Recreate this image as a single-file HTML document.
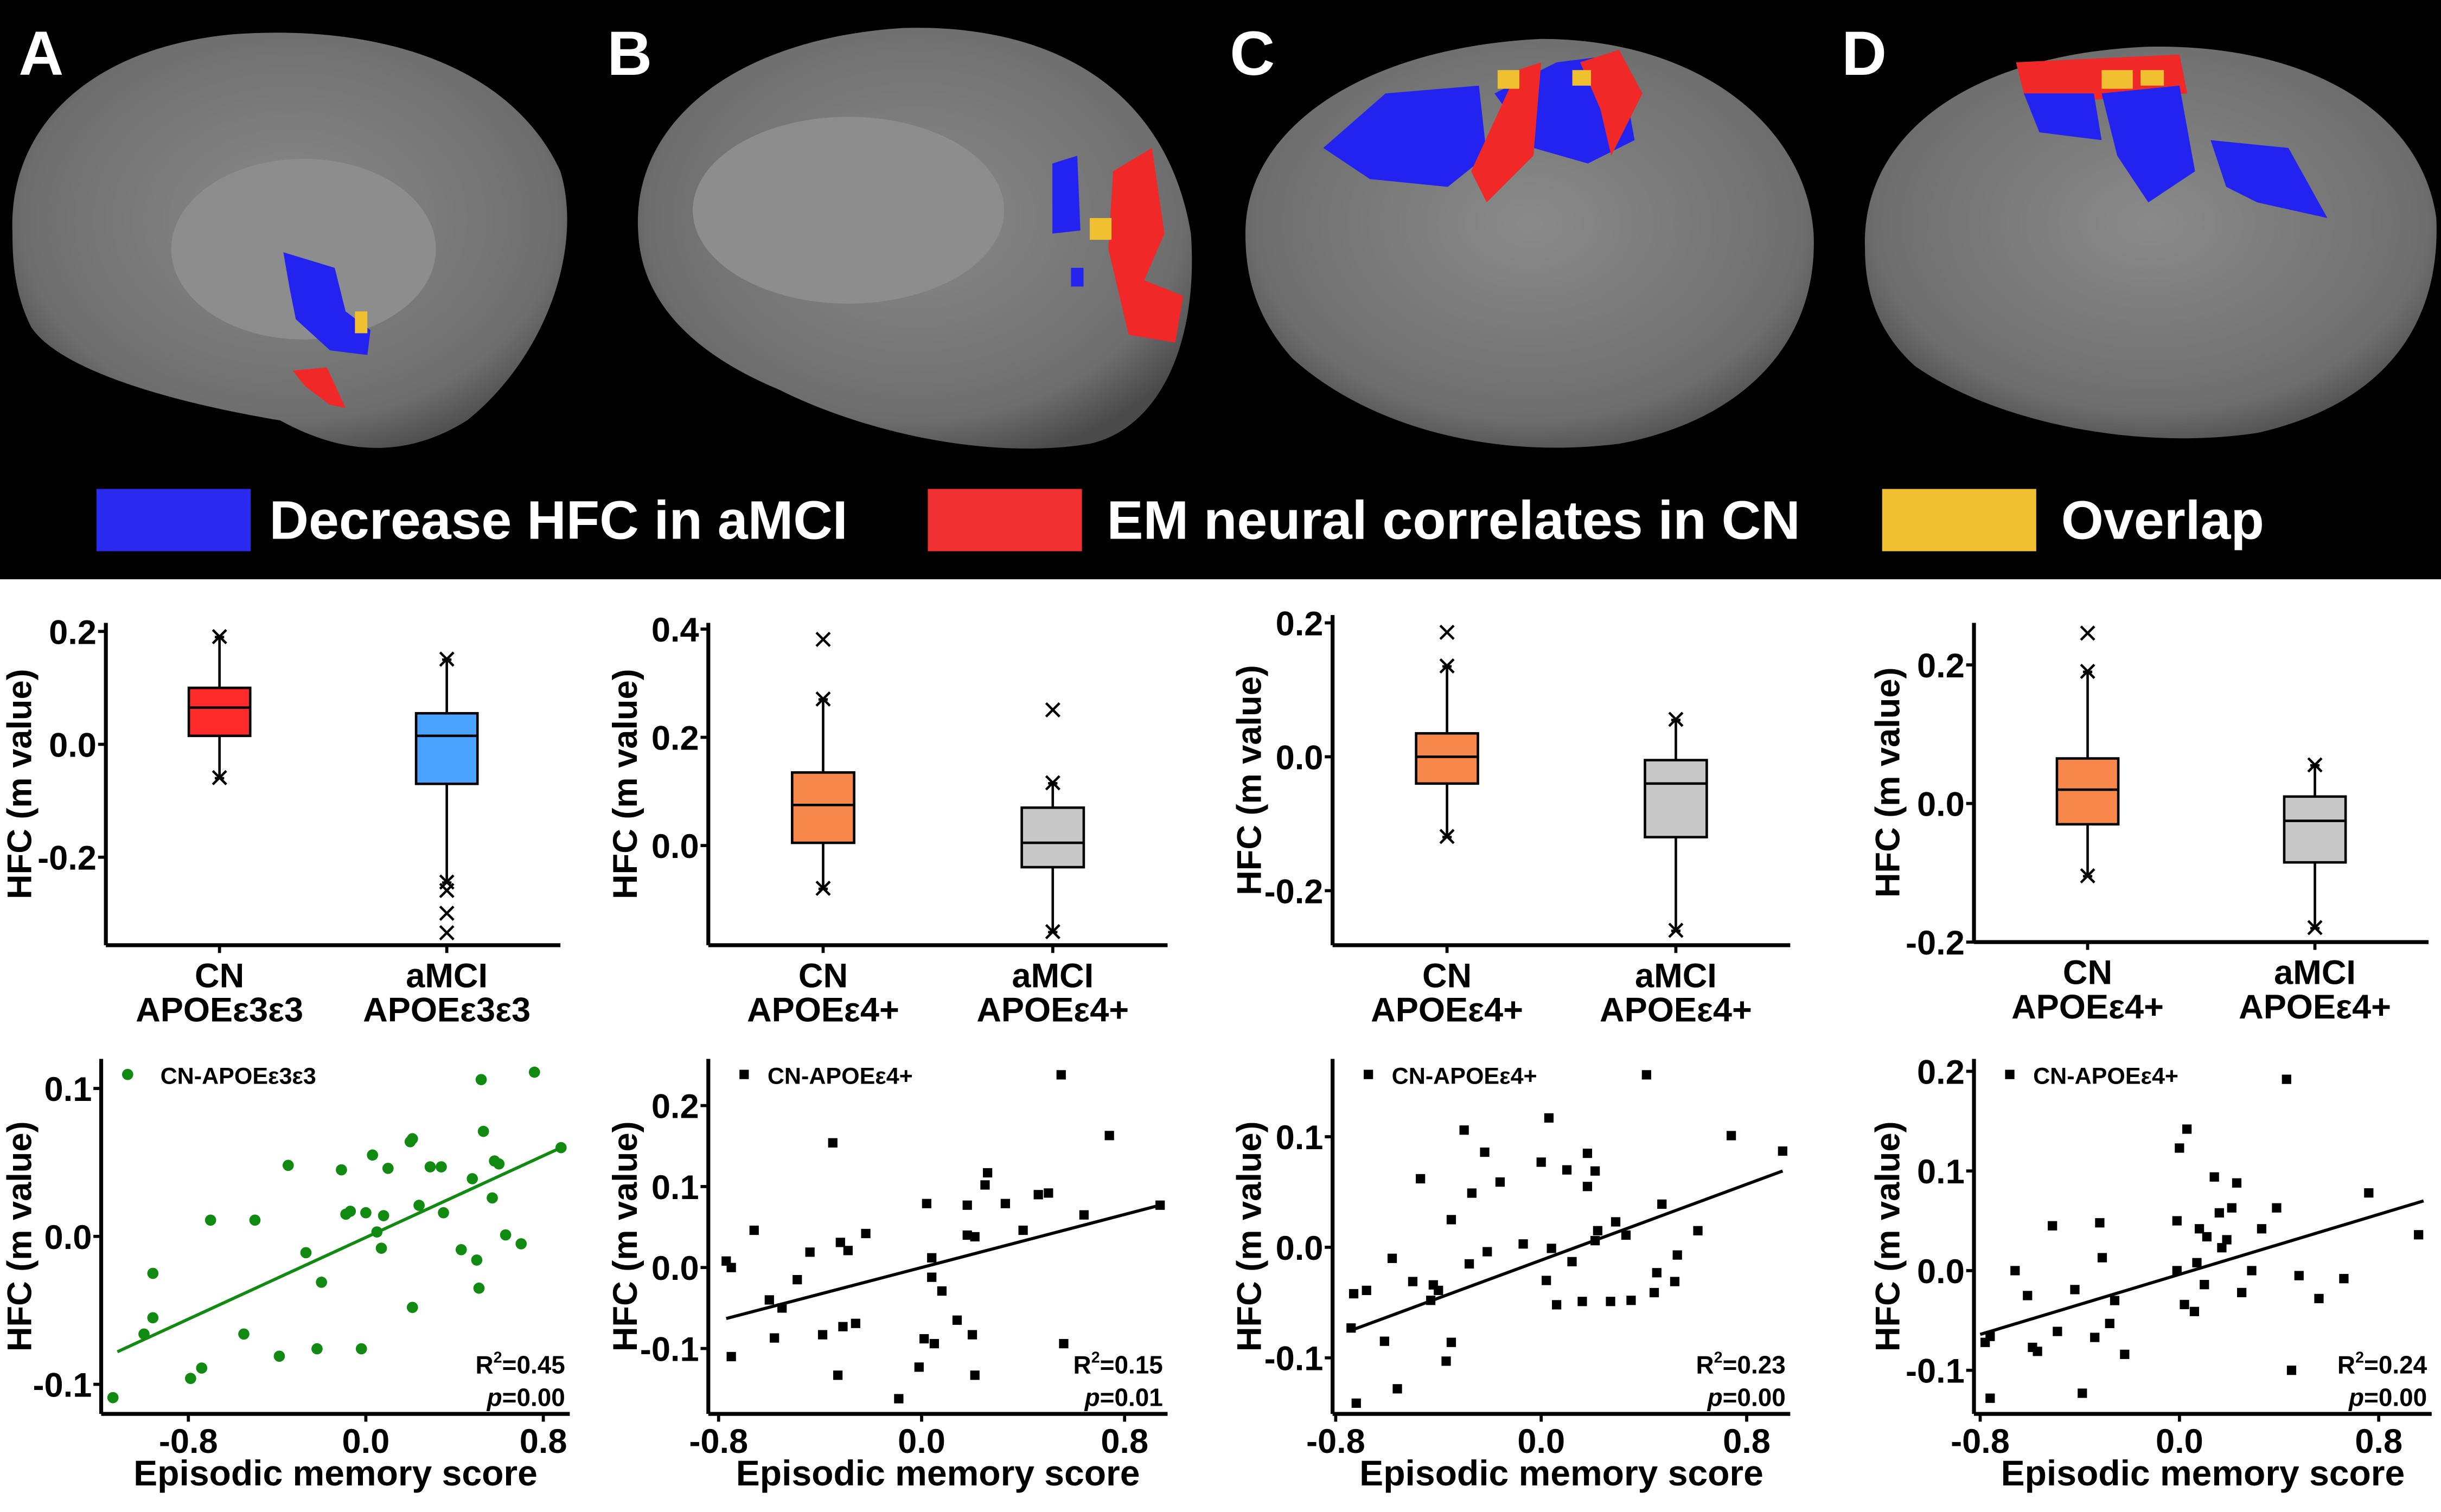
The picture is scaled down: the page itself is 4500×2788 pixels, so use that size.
<!DOCTYPE html>
<html><head><meta charset="utf-8"><style>
html,body{margin:0;padding:0;background:#fff;}
svg{display:block;}
text{font-family:"Liberation Sans",sans-serif;font-weight:bold;}
</style></head><body>
<svg id="fig" xmlns="http://www.w3.org/2000/svg" width="4500" height="2788" viewBox="0 0 1568 971" preserveAspectRatio="none">
<defs>
<radialGradient id="brainG" cx="50%" cy="45%" r="60%"><stop offset="0" stop-color="#8a8a8a"/><stop offset="0.8" stop-color="#6e6e6e"/><stop offset="1" stop-color="#4a4a4a"/></radialGradient>
</defs>
<rect x="0" y="0" width="1568" height="372" fill="#000"/>
<g>
<path d="M8,150 C5,80 60,30 150,22 C250,15 330,45 360,110 C375,160 350,230 300,270 C260,295 220,292 180,270 C120,260 40,240 20,210 C10,190 8,170 8,150Z" fill="url(#brainG)"/>
<ellipse cx="195" cy="160" rx="85" ry="58" fill="#8d8d8d"/>
<path d="M182,162 L215,172 L222,200 L238,212 L236,228 L212,225 L190,205 L186,185Z" fill="#2323f0"/>
<rect x="228" y="200" width="8" height="14" fill="#f0c030"/>
<path d="M188,238 L210,236 L222,262 L212,260 L196,248Z" fill="#f02828"/>
</g>
<g>
<path d="M410,150 C405,80 470,25 580,18 C680,15 750,60 765,150 C770,220 745,275 700,285 C640,295 560,280 500,250 C440,225 412,190 410,150Z" fill="url(#brainG)"/>
<ellipse cx="545" cy="135" rx="100" ry="60" fill="#8d8d8d"/>
<path d="M676,105 L692,100 L694,148 L676,150Z" fill="#2323f0"/>
<path d="M715,110 L740,95 L748,150 L735,180 L760,190 L755,220 L725,215 L712,160Z" fill="#f02828"/>
<rect x="700" y="140" width="14" height="14" fill="#f0c030"/>
<rect x="688" y="172" width="8" height="12" fill="#2323f0"/>
</g>
<g>
<path d="M800,150 C800,80 880,30 990,25 C1090,25 1160,80 1165,150 C1168,220 1120,270 1040,285 C960,295 880,275 830,230 C808,205 800,180 800,150Z" fill="url(#brainG)"/>
<path d="M850,95 L890,60 L950,55 L955,100 L930,120 L880,115Z" fill="#2323f0"/>
<path d="M960,60 L1000,40 L1040,35 L1050,90 L1020,105 L985,95Z" fill="#2323f0"/>
<path d="M975,45 L990,40 L985,100 L955,130 L945,110Z" fill="#f02828"/>
<path d="M1015,40 L1040,32 L1055,60 L1035,100 L1028,70Z" fill="#f02828"/>
<rect x="962" y="45" width="14" height="12" fill="#f0c030"/>
<rect x="1010" y="45" width="12" height="10" fill="#f0c030"/>
</g>
<g>
<path d="M1198,160 C1195,90 1260,35 1380,30 C1480,28 1555,70 1565,140 C1568,210 1530,260 1450,278 C1370,290 1280,270 1230,235 C1208,215 1198,190 1198,160Z" fill="url(#brainG)"/>
<path d="M1295,40 L1400,35 L1405,60 L1330,65 L1300,60Z" fill="#f02828"/>
<path d="M1300,60 L1345,60 L1350,90 L1310,85Z" fill="#2323f0"/>
<path d="M1350,60 L1400,55 L1410,110 L1380,130 L1360,100Z" fill="#2323f0"/>
<path d="M1420,90 L1470,95 L1495,140 L1450,130 L1430,120Z" fill="#2323f0"/>
<rect x="1350" y="45" width="20" height="12" fill="#f0c030"/>
<rect x="1375" y="45" width="15" height="10" fill="#f0c030"/>
</g>
<text x="12" y="48" font-size="40" fill="#fff">A</text>
<text x="390" y="48" font-size="40" fill="#fff">B</text>
<text x="790" y="48" font-size="40" fill="#fff">C</text>
<text x="1183" y="48" font-size="40" fill="#fff">D</text>
<g>
<rect x="62" y="314" width="99" height="40" fill="#2a2af0"/>
<text x="173" y="346" font-size="35" fill="#fff">Decrease HFC in aMCI</text>
<rect x="596" y="314" width="99" height="40" fill="#f03030"/>
<text x="711" y="346" font-size="35" fill="#fff">EM neural correlates in CN</text>
<rect x="1209" y="314" width="99" height="40" fill="#f0c030"/>
<text x="1324" y="346" font-size="35" fill="#fff">Overlap</text>
</g>
<g id="charts"></g>
</svg>
<script>
// ---- Box plot data: [whiskerLow, q1, median, q3, whiskerHigh]
const boxA_CN = [-0.06, 0.015, 0.065, 0.10, 0.19];
const boxA_MCI = [-0.245, -0.07, 0.015, 0.055, 0.15];
const outA_CN = [-0.06, 0.19];
const outA_MCI = [0.15, -0.245, -0.26, -0.30, -0.335];
const boxB_CN = [-0.08, 0.005, 0.075, 0.135, 0.27];
const boxB_MCI = [-0.16, -0.04, 0.005, 0.07, 0.115];
const outB_CN = [0.38, 0.27, -0.08];
const outB_MCI = [0.25, 0.115, -0.16];
const boxC_CN = [-0.12, -0.04, 0.0, 0.035, 0.135];
const boxC_MCI = [-0.26, -0.12, -0.04, -0.005, 0.055];
const outC_CN = [0.185, 0.135, -0.12];
const outC_MCI = [0.055, -0.26];
const boxD_CN = [-0.105, -0.03, 0.02, 0.065, 0.19];
const boxD_MCI = [-0.18, -0.085, -0.025, 0.01, 0.055];
const outD_CN = [0.245, 0.19, -0.105];
const outD_MCI = [0.055, -0.18];
const boxTicksA = [0.2, 0.0, -0.2];
const boxTicksB = [0.4, 0.2, 0.0];
const boxTicksC = [0.2, 0.0, -0.2];
const boxTicksD = [0.2, 0.0, -0.2];
const catA = [["CN","APOEε3ε3"],["aMCI","APOEε3ε3"]];
const catB = [["CN","APOEε4+"],["aMCI","APOEε4+"]];
// ---- Scatter data
const scAx = [-1.14,-1.00,-0.96,-0.96,-0.79,-0.74,-0.70,-0.55,-0.50,-0.39,-0.35,-0.27,-0.22,-0.20,-0.11,-0.09,-0.07,-0.02,0.00,0.03,0.05,0.07,0.08,0.10,0.20,0.21,0.21,0.24,0.29,0.34,0.35,0.43,0.48,0.50,0.51,0.53,0.57,0.58,0.60,0.63,0.70,0.76,0.88,0.52];
const scAy = [-0.109,-0.066,-0.055,-0.025,-0.096,-0.089,0.011,-0.066,0.011,-0.081,0.048,-0.011,-0.076,-0.031,0.045,0.015,0.017,-0.076,0.016,0.055,0.003,-0.008,0.014,0.046,0.064,0.066,-0.048,0.021,0.047,0.047,0.016,-0.009,0.039,-0.016,-0.035,0.071,0.026,0.051,0.049,0.001,-0.005,0.111,0.060,0.106];
const scBx = [-0.77,-0.75,-0.75,-0.66,-0.60,-0.58,-0.55,-0.49,-0.44,-0.39,-0.35,-0.33,-0.32,-0.31,-0.29,-0.26,-0.22,-0.01,0.01,0.02,-0.09,0.04,0.08,0.05,0.14,0.20,0.18,0.21,0.21,0.25,0.26,0.33,0.40,0.46,0.50,0.55,0.56,0.64,0.74,0.94,0.18,0.04];
const scBy = [0.008,0.000,-0.110,0.046,-0.040,-0.087,-0.050,-0.015,0.019,-0.083,0.154,-0.133,0.031,-0.073,0.021,-0.069,0.042,-0.123,-0.088,0.079,-0.162,0.012,-0.029,-0.094,-0.065,-0.083,0.077,-0.133,0.038,0.102,0.117,0.079,0.046,0.090,0.092,0.238,-0.094,0.065,0.163,0.077,0.040,-0.012];
const scCx = [-0.74,-0.73,-0.72,-0.68,-0.61,-0.58,-0.56,-0.50,-0.47,-0.43,-0.42,-0.40,-0.37,-0.35,-0.35,-0.30,-0.28,-0.27,-0.22,-0.21,-0.16,-0.07,0.00,0.02,0.03,0.04,0.06,0.10,0.12,0.16,0.18,0.21,0.21,0.22,0.27,0.29,0.33,0.35,0.41,0.44,0.45,0.47,0.52,0.53,0.61,0.74,0.94,0.18];
const scCy = [-0.073,-0.042,-0.141,-0.039,-0.085,-0.010,-0.128,-0.031,0.062,-0.048,-0.034,-0.039,-0.103,-0.086,0.025,0.106,-0.015,0.049,0.086,-0.004,0.059,0.003,0.077,-0.030,0.117,-0.001,-0.052,0.070,-0.013,-0.049,0.055,0.069,0.006,0.015,-0.049,0.023,0.011,-0.048,0.156,-0.041,-0.023,0.039,-0.031,-0.007,0.015,0.101,0.087,0.085];
const scDx = [-0.78,-0.76,-0.76,-0.66,-0.61,-0.59,-0.57,-0.51,-0.49,-0.42,-0.39,-0.34,-0.32,-0.31,-0.28,-0.26,-0.22,-0.01,-0.01,0.00,0.03,0.02,0.06,0.07,0.08,0.10,0.11,0.14,0.16,0.17,0.19,0.21,0.23,0.25,0.29,0.33,0.39,0.43,0.45,0.48,0.56,0.66,0.76,0.96];
const scDy = [-0.072,-0.066,-0.128,0.000,-0.025,-0.077,-0.081,0.045,-0.061,-0.019,-0.123,-0.067,0.048,0.013,-0.053,-0.030,-0.084,0.050,0.000,0.123,0.142,-0.034,-0.041,0.008,0.042,-0.014,0.034,0.094,0.058,0.023,0.031,0.063,0.088,-0.022,0.000,0.042,0.063,0.192,-0.100,-0.005,-0.028,-0.008,0.078,0.036];
const fitA = [-1.12, 0.88, -0.078, 0.060];
const fitB = [-0.77, 0.94, -0.063, 0.077];
const fitC = [-0.75, 0.94, -0.076, 0.069];
const fitD = [-0.80, 0.98, -0.064, 0.070];
const statsA = ["0.45","0.00"], statsB = ["0.15","0.01"], statsC = ["0.23","0.00"], statsD = ["0.24","0.00"];
const xTicks = [-0.8, 0.0, 0.8];
const yTicksA = [0.1, 0.0, -0.1];
const yTicksB = [0.2, 0.1, 0.0, -0.1];
const yTicksC = [0.1, 0.0, -0.1];
const yTicksD = [0.2, 0.1, 0.0, -0.1];

const NS = "http://www.w3.org/2000/svg";
const root = document.getElementById("charts");
function mk(tag, attrs, parent){const e=document.createElementNS(NS,tag);for(const k in attrs)e.setAttribute(k,attrs[k]);(parent||root).appendChild(e);return e;}
function fmt(v,d){const s=v.toFixed(d);return s==="-0.0"?"0.0":s;}

function boxPanel(id, ax, yTop, yBot, xEnd, y0, k, ticks, cats, c1, c2, boxes, outs, titleX){
  const g=mk("g",{});
  
  
  const Y=v=>y0-v*k;
  const ya=mk("line",{x1:ax,y1:yTop,x2:ax,y2:yBot,stroke:"#000","stroke-width":2.5},g);
  
  
  const xa=mk("line",{x1:ax,y1:yBot,x2:xEnd,y2:yBot,stroke:"#000","stroke-width":2.5},g);
  
  
  ticks.forEach(t=>{
    mk("line",{x1:ax-5,y1:Y(t),x2:ax,y2:Y(t),stroke:"#000","stroke-width":2},g);
    const tl=mk("text",{x:ax-6,y:Y(t)+8,"font-size":22,"text-anchor":"end"},g);
    tl.textContent=fmt(t,1);
    
    
  });
  const w=xEnd-ax;
  const cx=[ax+w*0.25, ax+w*0.75];
  const cols=[c1,c2];
  const bw=w*0.135;
  [0,1].forEach(i=>{
    const b=boxes[i], x=cx[i];
    mk("line",{x1:x,y1:yBot,x2:x,y2:yBot+5,stroke:"#000","stroke-width":2},g);
    mk("line",{x1:x,y1:Y(b[4]),x2:x,y2:Y(b[0]),stroke:"#000","stroke-width":1.6},g);
    mk("line",{x1:x-3,y1:Y(b[0]),x2:x+3,y2:Y(b[0]),stroke:"#000","stroke-width":1.6},g);
    mk("line",{x1:x-3,y1:Y(b[4]),x2:x+3,y2:Y(b[4]),stroke:"#000","stroke-width":1.6},g);
    const r=mk("rect",{x:x-bw/2,y:Y(b[3]),width:bw,height:Y(b[1])-Y(b[3]),fill:cols[i],stroke:"#000","stroke-width":1.6},g);
    
    
    mk("line",{x1:x-bw/2,y1:Y(b[2]),x2:x+bw/2,y2:Y(b[2]),stroke:"#000","stroke-width":1.6},g);
    outs[i].forEach(o=>{
      const m=mk("text",{x:x,y:Y(o)+7,"font-size":22,"text-anchor":"middle",style:"font-weight:normal"},g);
      m.textContent="×";
      
      
    });
    cats[i].forEach((s,j)=>{
      const t=mk("text",{x:x,y:yBot+27+j*22,"font-size":22,"text-anchor":"middle"},g);
      t.textContent=s;
      
      
    });
  });
  const tt=mk("text",{x:0,y:0,"font-size":22,"text-anchor":"middle",transform:`translate(${titleX},${(yTop+yBot)/2}) rotate(-90)`},g);
  tt.textContent="HFC (m value)";
  
  
}

function scatterPanel(id, ax, xEnd, yTop, yBot, x0, kx, y0, ky, xs, ys, fit, yt, legendText, stats, color, circle, titleX){
  const g=mk("g",{});
  
  
  const X=v=>x0+v*kx, Y=v=>y0-v*ky;
  const ya=mk("line",{x1:ax,y1:yTop,x2:ax,y2:yBot,stroke:"#000","stroke-width":2.5},g);
  
  
  const xa=mk("line",{x1:ax,y1:yBot,x2:xEnd,y2:yBot,stroke:"#000","stroke-width":2.5},g);
  
  
  xTicks.forEach(t=>{
    mk("line",{x1:X(t),y1:yBot,x2:X(t),y2:yBot+5,stroke:"#000","stroke-width":2},g);
    const tl=mk("text",{x:X(t),y:yBot+25,"font-size":22,"text-anchor":"middle"},g);
    tl.textContent=fmt(t,1);
    
    
  });
  yt.forEach(t=>{
    mk("line",{x1:ax-5,y1:Y(t),x2:ax,y2:Y(t),stroke:"#000","stroke-width":2},g);
    const tl=mk("text",{x:ax-6,y:Y(t)+8,"font-size":22,"text-anchor":"end"},g);
    tl.textContent=fmt(t,1);
    
    
  });
  const ln=mk("line",{x1:X(fit[0]),y1:Y(fit[2]),x2:X(fit[1]),y2:Y(fit[3]),stroke:color,"stroke-width":2},g);
  
  
  xs.forEach((v,i)=>{
    let p;
    if(circle) p=mk("circle",{cx:X(v),cy:Y(ys[i]),r:3.6,fill:color},g);
    else p=mk("rect",{x:X(v)-3,y:Y(ys[i])-3,width:6,height:6,fill:color},g);
    
    
  });
  let lm;
  if(circle) lm=mk("circle",{cx:ax+17,cy:yTop+10,r:3.6,fill:color},g);
  else lm=mk("rect",{x:ax+20,y:yTop+7,width:6,height:6,fill:color},g);
  
  
  const lt=mk("text",{x:ax+38,y:yTop+16,"font-size":15},g);
  lt.textContent=legendText;
  
  
  const r2=mk("text",{x:xEnd-3,y:yBot-26,"font-size":16,"text-anchor":"end"},g);
  r2.innerHTML='R<tspan font-size="10" dy="-7">2</tspan><tspan dy="7">='+stats[0]+'</tspan>';
  
  
  const pv=mk("text",{x:xEnd-3,y:yBot-5,"font-size":16,"text-anchor":"end"},g);
  pv.innerHTML='<tspan font-style="italic">p</tspan>='+stats[1];
  
  
  const xt=mk("text",{x:(ax+xEnd)/2,y:yBot+46,"font-size":23,"text-anchor":"middle"},g);
  xt.textContent="Episodic memory score";
  
  
  const tt=mk("text",{x:0,y:0,"font-size":22,"text-anchor":"middle",transform:`translate(${titleX},${(yTop+yBot)/2}) rotate(-90)`},g);
  tt.textContent="HFC (m value)";
  
  
}

boxPanel("a",68,400,607,360,478,362.5,boxTicksA,catA,"#ff2a2a","#4aa3ff",[boxA_CN,boxA_MCI],[outA_CN,outA_MCI],20);
boxPanel("b",455,400,607,750,543,347.5,boxTicksB,catB,"#f7874a","#c8c8c8",[boxB_CN,boxB_MCI],[outB_CN,outB_MCI],409);
boxPanel("c",856,395,607,1150,486,430,boxTicksC,catB,"#f7874a","#c8c8c8",[boxC_CN,boxC_MCI],[outC_CN,outC_MCI],810);
boxPanel("d",1268,400,605,1560,516,445,boxTicksD,catB,"#f7874a","#c8c8c8",[boxD_CN,boxD_MCI],[outD_CN,outD_MCI],1220);

scatterPanel("a",65,366,680,908,235,142.5,794,950,scAx,scAy,fitA,yTicksA,"CN-APOEε3ε3",statsA,"#118a11",true,20);
scatterPanel("b",455,750,680,908,592,163,814,520,scBx,scBy,fitB,yTicksB,"CN-APOEε4+",statsB,"#000",false,409);
scatterPanel("c",856,1150,680,908,990,165,801,710,scCx,scCy,fitC,yTicksC,"CN-APOEε4+",statsC,"#000",false,810);
scatterPanel("d",1268,1562,680,908,1400,160,816,640,scDx,scDy,fitD,yTicksD,"CN-APOEε4+",statsD,"#000",false,1220);
</script>
</body></html>
